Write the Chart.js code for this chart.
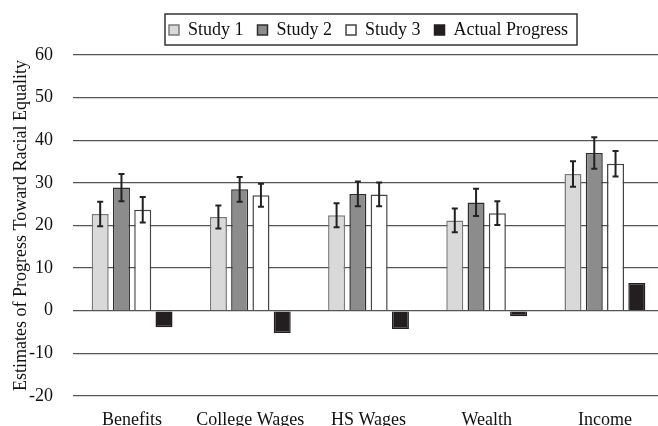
<!DOCTYPE html>
<html>
<head>
<meta charset="utf-8">
<script src="https://cdn.jsdelivr.net/npm/chart.js@4/dist/chart.umd.min.js"></script>
<style>
  html, body { margin: 0; padding: 0; background: #fff; overflow: hidden; }
  #wrap { position: absolute; left: 0; top: 0; width: 664px; height: 429px; }
</style>
</head>
<body>
<div id="wrap"><canvas id="chart"></canvas></div>
<script>
const categories = ['Benefits', 'College Wages', 'HS Wages', 'Wealth', 'Income'];
const study1 = [22.7, 22.0, 22.4, 21.2, 32.1];
const study2 = [28.9, 28.5, 27.4, 25.4, 37.0];
const study3 = [23.7, 27.1, 27.3, 22.9, 34.5];
const actual = [-3.9, -5.2, -4.3, -1.3, 6.5];
const study1Err = [2.9, 2.7, 2.8, 2.8, 3.0];
const study2Err = [3.2, 2.9, 2.9, 3.2, 3.7];
const study3Err = [3.0, 2.7, 2.8, 2.8, 3.0];
const errors = [study1Err, study2Err, study3Err, null];

const serif = '"Liberation Serif", "Times New Roman", serif';

// error bars drawn from the y scale
const errorBars = {
  id: 'errorBars',
  afterDatasetsDraw(chart) {
    const ctx = chart.ctx;
    const y = chart.scales.y;
    ctx.save();
    ctx.strokeStyle = '#222';
    ctx.lineWidth = 2;
    errors.forEach((err, d) => {
      if (!err) return;
      const meta = chart.getDatasetMeta(d);
      meta.data.forEach((bar, i) => {
        const v = chart.data.datasets[d].data[i];
        const top = y.getPixelForValue(v + err[i]);
        const bot = y.getPixelForValue(v - err[i]);
        ctx.beginPath();
        ctx.moveTo(bar.x, top); ctx.lineTo(bar.x, bot);
        ctx.moveTo(bar.x - 3, top); ctx.lineTo(bar.x + 3, top);
        ctx.moveTo(bar.x - 3, bot); ctx.lineTo(bar.x + 3, bot);
        ctx.stroke();
      });
    });
    ctx.restore();
  }
};

// frame round the legend, plus a little extra room under it
const legendFrame = {
  id: 'legendFrame',
  beforeInit(chart) {
    const fit = chart.legend.fit;
    chart.legend.fit = function () {
      fit.bind(chart.legend)();
      this.height += 6;
    };
  },
  afterDraw(chart) {
    const boxes = chart.legend.legendHitBoxes;
    if (!boxes || !boxes.length) return;
    const left = Math.min(...boxes.map(b => b.left)) - 4;
    const right = Math.max(...boxes.map(b => b.left + b.width)) + 9;
    const mid = boxes[0].top + boxes[0].height / 2;
    const ctx = chart.ctx;
    ctx.save();
    ctx.strokeStyle = '#333';
    ctx.lineWidth = 1.5;
    ctx.strokeRect(left, mid - 16, right - left, 31);
    ctx.restore();
  }
};

new Chart(document.getElementById('chart'), {
  type: 'bar',
  data: {
    labels: categories,
    datasets: [
      { label: 'Study 1', data: study1, backgroundColor: '#d9d9d9', borderColor: '#7a7a7a', borderWidth: 1.5 },
      { label: 'Study 2', data: study2, backgroundColor: '#8c8c8c', borderColor: '#2e2e2e', borderWidth: 1.5 },
      { label: 'Study 3', data: study3, backgroundColor: '#ffffff', borderColor: '#444444', borderWidth: 1.5 },
      { label: 'Actual Progress', data: actual, backgroundColor: '#231f20', borderColor: '#231f20', borderWidth: 1.5 }
    ]
  },
  options: {
    responsive: true,
    maintainAspectRatio: false,
    animation: false,
    layout: { padding: { top: 7, left: 10, right: 0, bottom: 0 } },
    datasets: { bar: { categoryPercentage: 0.72, barPercentage: 0.8 } },
    plugins: {
      legend: {
        position: 'top',
        fullSize: false,
        labels: {
          color: '#111',
          boxWidth: 10,
          boxHeight: 10,
          padding: 14,
          font: { family: serif, size: 18 }
        }
      },
      tooltip: { enabled: false }
    },
    scales: {
      x: {
        grid: { display: false },
        border: { display: false },
        afterFit(scale) { scale.height = 33; },
        ticks: { color: '#111', padding: 5, font: { family: serif, size: 18 } }
      },
      y: {
        min: -20,
        max: 60,
        afterFit(scale) { scale.width = 63; },
        ticks: { stepSize: 10, color: '#111', padding: 20, font: { family: serif, size: 18 } },
        grid: { color: '#555', lineWidth: 1.3, drawTicks: false },
        border: { display: false },
        title: {
          display: true,
          text: 'Estimates of Progress Toward Racial Equality',
          color: '#111',
          padding: { top: 0, bottom: 6 },
          font: { family: serif, size: 18 }
        }
      }
    }
  },
  plugins: [errorBars, legendFrame]
});
</script>
</body>
</html>
